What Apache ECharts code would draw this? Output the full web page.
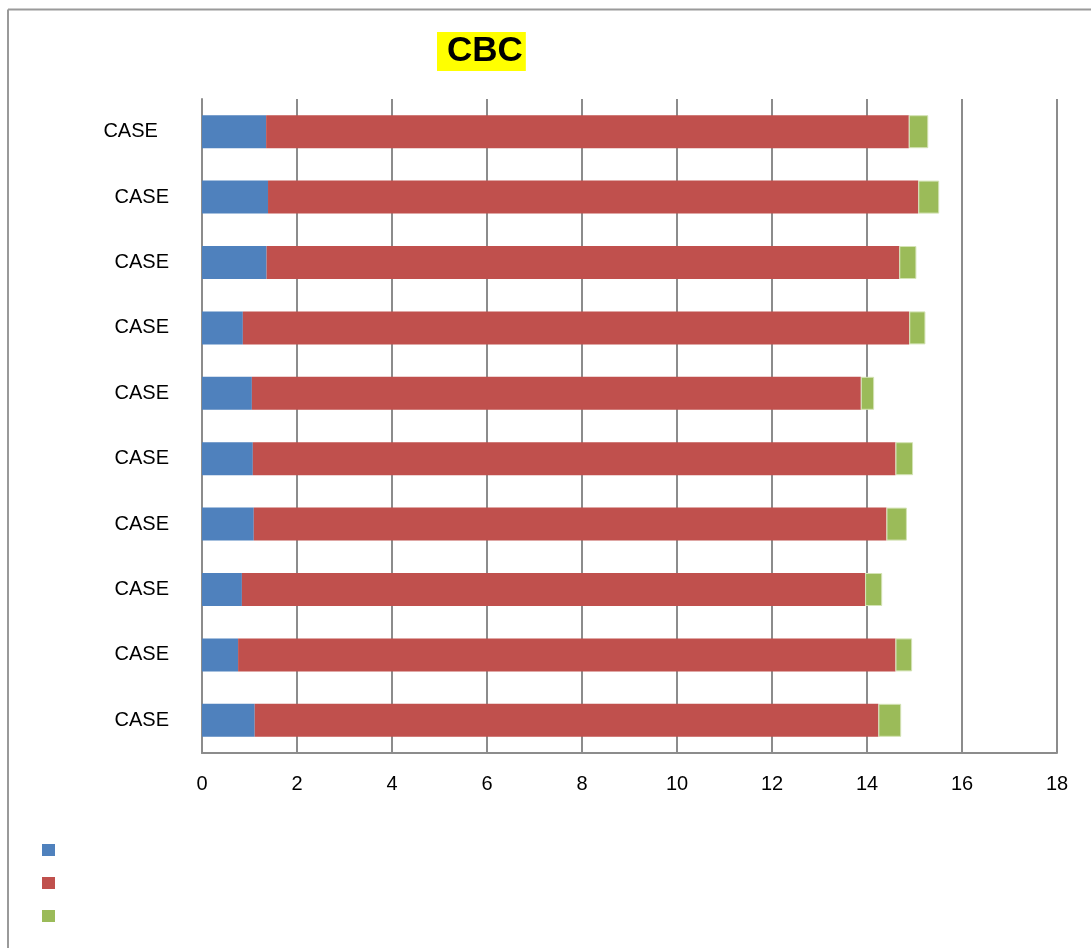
<!DOCTYPE html>
<html>
<head>
<meta charset="utf-8">
<script src="https://cdn.jsdelivr.net/npm/echarts@6/dist/echarts.min.js"></script>
<style>html,body{margin:0;padding:0;background:#fff}#c{width:1091px;height:948px}</style>
</head>
<body>
<div id="c"></div>
<script>
var categories = ['CASE  ', 'CASE', 'CASE', 'CASE', 'CASE', 'CASE', 'CASE', 'CASE', 'CASE', 'CASE'];
var seriesNames = ['S1', 'S2', 'S3'];
var blueValues  = [1.35, 1.39, 1.36, 0.86, 1.05, 1.07, 1.09, 0.84, 0.76, 1.11];
var redValues   = [13.53, 13.69, 13.32, 14.03, 12.82, 13.53, 13.32, 13.12, 13.84, 13.13];
var greenValues = [0.41, 0.44, 0.36, 0.34, 0.28, 0.37, 0.43, 0.36, 0.35, 0.48];
var xTicks = [0, 2, 4, 6, 8, 10, 12, 14, 16, 18];

var chart = echarts.init(document.getElementById('c'));
var font = '"Liberation Sans", Arial, sans-serif';
chart.setOption({
  animation: false,
  title: {
    text: 'CBC', left: 437, top: 32,
    backgroundColor: '#ffff00',
    padding: [2, 3, 2, 10],
    textStyle: { fontFamily: font, fontWeight: 'bold', fontSize: 35, lineHeight: 35, color: '#000' }
  },
  legend: {
    orient: 'vertical', left: 37, top: 839,
    itemWidth: 13, itemHeight: 12, itemGap: 21,
    icon: 'rect',
    itemStyle: { borderWidth: 0 },
    formatter: function () { return ''; },
    data: seriesNames
  },
  graphic: [
    { type: 'line', shape: { x1: 8, y1: 9.5, x2: 1091, y2: 9.5 }, style: { stroke: '#9a9a9a', lineWidth: 2 } },
    { type: 'line', shape: { x1: 8, y1: 9.5, x2: 8, y2: 948 }, style: { stroke: '#9a9a9a', lineWidth: 2 } }
  ],
  grid: { left: 202, right: 34, top: 99, bottom: 195 },
  xAxis: {
    type: 'value', min: xTicks[0], max: xTicks[xTicks.length - 1], interval: 2,
    axisLine: { show: true, lineStyle: { color: '#8c8c8c', width: 2 } },
    axisTick: { show: false },
    splitLine: { show: true, lineStyle: { color: '#8c8c8c', width: 2 } },
    axisLabel: { fontFamily: font, fontSize: 20, color: '#000', margin: 21 }
  },
  yAxis: {
    type: 'category', inverse: true, data: categories,
    axisLine: { show: true, lineStyle: { color: '#8c8c8c', width: 2 } },
    axisTick: { show: false },
    axisLabel: { fontFamily: font, fontSize: 20, color: '#000', margin: 33 }
  },
  series: [
    { name: seriesNames[0], type: 'bar', stack: 'a', barWidth: 33, data: blueValues, itemStyle: { color: '#4F81BD' } },
    { name: seriesNames[1], type: 'bar', stack: 'a', barWidth: 33, data: redValues, itemStyle: { color: '#C0504D' } },
    { name: seriesNames[2], type: 'bar', stack: 'a', barWidth: 33, data: greenValues, itemStyle: { color: '#9BBB59', borderColor: '#d4e3b5', borderWidth: 1 } }
  ]
});
</script>
</body>
</html>
